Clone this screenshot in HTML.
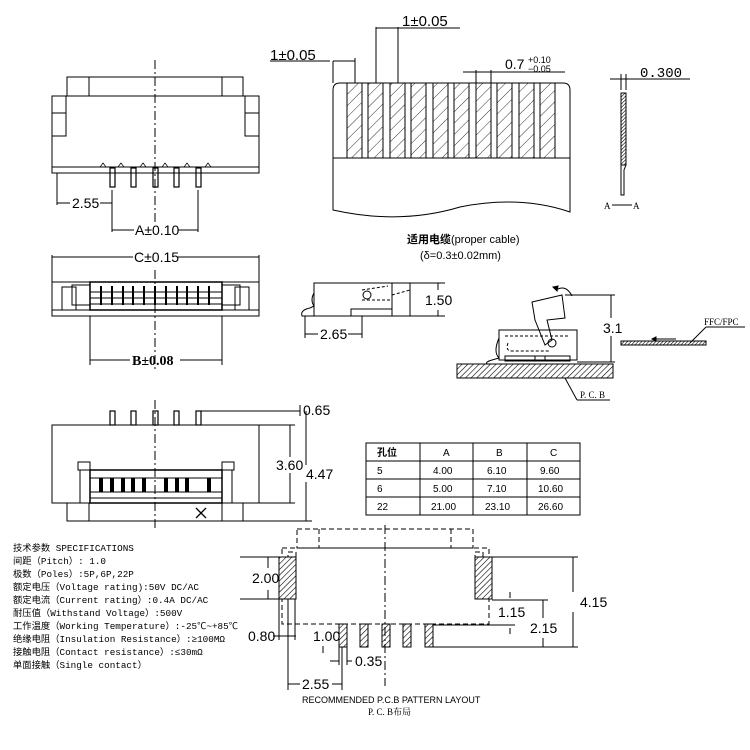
<!DOCTYPE html>
<html><head><meta charset="utf-8"><style>
body{margin:0;background:#fff}
svg{display:block}
.d{font-family:"Liberation Sans",sans-serif;font-size:14px;fill:#000}
.m{font-family:"Liberation Mono","Noto Sans CJK SC",monospace;font-size:9.3px;fill:#000}
.s{font-family:"Liberation Sans","Noto Sans CJK SC",sans-serif;font-size:10px;fill:#000}
</style></head><body>
<svg width="750" height="750" viewBox="0 0 750 750" xmlns="http://www.w3.org/2000/svg">
<defs>
<pattern id="h" width="4" height="4" patternUnits="userSpaceOnUse" patternTransform="rotate(45)"><rect width="4" height="4" fill="#fff"/><line x1="0" y1="0" x2="0" y2="4" stroke="#000" stroke-width="1.2"/></pattern>
<pattern id="h2" width="2.5" height="2.5" patternUnits="userSpaceOnUse" patternTransform="rotate(45)"><rect width="3" height="3" fill="#fff"/><line x1="0" y1="0" x2="0" y2="3" stroke="#000" stroke-width="1.2"/></pattern>
<pattern id="hc" width="8" height="8" patternUnits="userSpaceOnUse" patternTransform="rotate(45)"><rect width="8" height="8" fill="#fff"/><line x1="0" y1="0" x2="0" y2="8" stroke="#000" stroke-width="0.8"/></pattern>
</defs>
<g fill="none" stroke="#000" stroke-width="1">
<!-- View 1 -->
<rect x="67" y="77" width="176" height="19"/><line x1="89" y1="77" x2="89" y2="96"/><line x1="222" y1="77" x2="222" y2="96"/>
<rect x="52" y="96" width="207" height="77"/><line x1="52" y1="167" x2="259" y2="167"/>
<rect x="52" y="113" width="14" height="23"/><rect x="245" y="113" width="14" height="23"/>
<line x1="66" y1="96" x2="66" y2="136"/><line x1="245" y1="96" x2="245" y2="136"/>
<path d="M100 167 L103 163 L106 167 M118 167 L121 163 L124 167 M140 167 L143 163 L146 167 M162 167 L165 163 L168 167 M184 167 L187 163 L190 167 M205 167 L208 163 L211 167" stroke-width="0.7"/>
<g stroke-width="1.2"><rect x="110" y="168" width="5" height="19"/><rect x="131" y="168" width="5" height="19"/><rect x="153" y="168" width="5" height="19"/><rect x="174" y="168" width="5" height="19"/><rect x="196" y="168" width="5" height="19"/></g>
<line x1="155" y1="60" x2="155" y2="222" stroke-dasharray="9,3,2,3"/>
<line x1="57" y1="173" x2="57" y2="205"/><line x1="112" y1="190" x2="112" y2="232"/><line x1="198" y1="190" x2="198" y2="232"/>
<line x1="57" y1="203" x2="70" y2="203"/><line x1="100" y1="203" x2="112" y2="203"/>
<line x1="112" y1="230" x2="134" y2="230"/><line x1="178" y1="230" x2="198" y2="230"/>
<!-- View 2 -->
<line x1="52" y1="255" x2="52" y2="285"/><line x1="259" y1="255" x2="259" y2="285"/>
<line x1="52" y1="257" x2="133" y2="257"/><line x1="178" y1="257" x2="259" y2="257"/>
<rect x="52" y="282" width="207" height="34"/><line x1="52" y1="310" x2="259" y2="310"/>
<rect x="62" y="287" width="14" height="23"/><rect x="235" y="287" width="14" height="23"/>
<rect x="72" y="285" width="18" height="20"/><rect x="222" y="285" width="18" height="20"/>
<rect x="90" y="282" width="132" height="28" stroke-width="1.5"/>
<line x1="90" y1="292" x2="222" y2="292"/><line x1="90" y1="298" x2="222" y2="298"/><line x1="90" y1="304" x2="222" y2="304"/>
<g stroke-width="2"><line x1="101" y1="286" x2="101" y2="305"/><line x1="112" y1="286" x2="112" y2="305"/><line x1="123" y1="286" x2="123" y2="305"/><line x1="133" y1="286" x2="133" y2="305"/><line x1="144" y1="286" x2="144" y2="305"/><line x1="155" y1="286" x2="155" y2="305"/><line x1="166" y1="286" x2="166" y2="305"/><line x1="177" y1="286" x2="177" y2="305"/><line x1="187" y1="286" x2="187" y2="305"/><line x1="198" y1="286" x2="198" y2="305"/><line x1="209" y1="286" x2="209" y2="305"/></g>
<line x1="155" y1="270" x2="155" y2="370" stroke-dasharray="9,3,2,3"/>
<line x1="90" y1="316" x2="90" y2="365"/><line x1="222" y1="316" x2="222" y2="365"/>
<line x1="90" y1="360" x2="130" y2="360"/><line x1="180" y1="360" x2="222" y2="360"/>
<!-- View 3 -->
<g stroke-width="1.2"><rect x="110" y="411" width="5" height="14"/><rect x="131" y="411" width="5" height="14"/><rect x="153" y="411" width="5" height="14"/><rect x="174" y="411" width="5" height="14"/><rect x="196" y="411" width="5" height="14"/></g>
<line x1="201" y1="411" x2="300" y2="411"/><line x1="300" y1="405" x2="300" y2="416"/>
<rect x="52" y="425" width="207" height="78"/>
<rect x="67" y="503" width="176" height="18"/><line x1="89" y1="503" x2="89" y2="521"/><line x1="222" y1="503" x2="222" y2="521"/>
<path d="M196 508 L206 518 M206 508 L196 518" stroke-width="1.3"/>
<rect x="80" y="470" width="10" height="33"/><rect x="222" y="470" width="10" height="33"/>
<rect x="78" y="462" width="12" height="8"/><rect x="222" y="462" width="12" height="8"/>
<rect x="90" y="470" width="132" height="33" stroke-width="1.5"/>
<line x1="90" y1="478" x2="222" y2="478"/><line x1="90" y1="492" x2="222" y2="492"/><line x1="90" y1="498" x2="222" y2="498"/>
<g stroke-width="4"><line x1="101" y1="478" x2="101" y2="492"/><line x1="112" y1="478" x2="112" y2="492"/><line x1="123" y1="478" x2="123" y2="492"/><line x1="133" y1="478" x2="133" y2="492"/><line x1="144" y1="478" x2="144" y2="492"/><line x1="166" y1="478" x2="166" y2="492"/><line x1="177" y1="478" x2="177" y2="492"/><line x1="187" y1="478" x2="187" y2="492"/><line x1="209" y1="478" x2="209" y2="492"/></g>
<line x1="155" y1="400" x2="155" y2="530" stroke-dasharray="9,3,2,3"/>
<line x1="259" y1="425" x2="295" y2="425"/><line x1="259" y1="503" x2="295" y2="503"/><line x1="243" y1="521" x2="312" y2="521"/>
<line x1="290" y1="425" x2="290" y2="457"/><line x1="290" y1="473" x2="290" y2="503"/>
<line x1="306" y1="411" x2="306" y2="465"/><line x1="306" y1="482" x2="306" y2="521"/>
<!-- Cable -->
<path d="M333 200 L333 90 Q333 83 340 83 L563 83 Q570 83 570 90 L570 212 Q520 195 460 207 Q400 225 333 210 Z"/>
<line x1="333" y1="158" x2="570" y2="158"/>
<g fill="url(#hc)"><rect x="347" y="83" width="15" height="75"/><rect x="368" y="83" width="15" height="75"/><rect x="390" y="83" width="15" height="75"/><rect x="411" y="83" width="15" height="75"/><rect x="433" y="83" width="15" height="75"/><rect x="454" y="83" width="15" height="75"/><rect x="476" y="83" width="15" height="75"/><rect x="497" y="83" width="15" height="75"/><rect x="519" y="83" width="15" height="75"/><rect x="540" y="83" width="15" height="75"/></g>
<line x1="333" y1="61" x2="333" y2="83"/><line x1="355" y1="58" x2="355" y2="83"/><line x1="333" y1="61" x2="355" y2="61"/><line x1="270" y1="61" x2="330" y2="61"/>
<line x1="376" y1="27" x2="376" y2="83"/><line x1="398" y1="27" x2="398" y2="83"/><line x1="376" y1="28" x2="398" y2="28"/><line x1="398" y1="28" x2="460" y2="28"/>
<line x1="476" y1="70" x2="476" y2="83"/><line x1="491" y1="70" x2="491" y2="83"/><line x1="463" y1="72" x2="565" y2="72"/>
<!-- Section A-A -->
<rect x="621" y="93" width="5" height="72" fill="url(#h2)"/><path d="M621 165 L621 195 L624 195 L624 170 L626 165"/>
<line x1="610" y1="79" x2="640" y2="79"/><line x1="621" y1="74" x2="621" y2="90"/><line x1="626" y1="74" x2="626" y2="90"/><line x1="626" y1="79" x2="690" y2="79"/>
<line x1="612" y1="205" x2="632" y2="205"/>
<!-- Side views -->
<rect x="314" y="283" width="96" height="33"/><line x1="392" y1="283" x2="392" y2="316"/><rect x="351" y="309" width="41" height="7"/>
<path d="M314 293 Q310 300 314 306 L310 308 Q300 310 302 316 L314 316" />
<path d="M362 290 L388 286 M362 300 L392 300 M392 295 L410 290" stroke-dasharray="3,2"/>
<circle cx="367" cy="295" r="4"/>
<line x1="410" y1="283" x2="445" y2="283"/><line x1="410" y1="316" x2="445" y2="316"/><line x1="438" y1="283" x2="438" y2="290"/><line x1="438" y1="310" x2="438" y2="316"/>
<line x1="305" y1="316" x2="305" y2="338"/><line x1="362" y1="316" x2="362" y2="338"/><line x1="305" y1="334" x2="318" y2="334"/><line x1="348" y1="334" x2="362" y2="334"/>
<rect x="457" y="364" width="156" height="14" fill="url(#h)"/>
<rect x="499" y="330" width="78" height="30"/><rect x="505" y="356" width="40" height="5"/><rect x="535" y="356" width="35" height="5"/>
<path d="M499 338 Q493 352 499 358 L492 360 Q485 362 487 364"/>
<path d="M505 336 L568 336 M508 343 Q505 351 512 351 L550 351" stroke-dasharray="3,2"/>
<path d="M532 302 L562 295 L565 318 L547 320 L552 340 L545 345 L535 320 Z"/>
<circle cx="552" cy="343" r="4"/>
<path d="M556 290 Q566 284 572 296"/><path d="M553 287 L557 291 L558 286 Z" fill="#000"/>
<line x1="565" y1="295" x2="615" y2="295"/><line x1="577" y1="362" x2="615" y2="362"/><line x1="611" y1="295" x2="611" y2="318"/><line x1="611" y1="336" x2="611" y2="362"/>
<line x1="565" y1="378" x2="577" y2="400"/><line x1="577" y1="400" x2="610" y2="400"/>
<rect x="621" y="341" width="85" height="4" fill="url(#h2)"/><line x1="656" y1="339" x2="676" y2="339"/><path d="M656 337 L652 339 L656 341Z" fill="#000"/>
<line x1="690" y1="343" x2="706" y2="327"/><line x1="706" y1="327" x2="745" y2="327"/>
<!-- Table -->
<rect x="366" y="443" width="214" height="72"/>
<line x1="420" y1="443" x2="420" y2="515"/><line x1="473" y1="443" x2="473" y2="515"/><line x1="527" y1="443" x2="527" y2="515"/>
<line x1="366" y1="461" x2="580" y2="461"/><line x1="366" y1="479" x2="580" y2="479"/><line x1="366" y1="497" x2="580" y2="497"/>
<!-- PCB layout -->
<g stroke-dasharray="5,3"><rect x="297" y="529" width="176" height="19"/><line x1="319" y1="529" x2="319" y2="548"/><line x1="451" y1="529" x2="451" y2="548"/>
<rect x="282" y="548" width="207" height="76"/><rect x="288" y="552" width="8" height="44"/><rect x="475" y="552" width="8" height="44"/></g>
<rect x="279" y="557" width="17" height="42" fill="url(#h)"/><rect x="475" y="557" width="17" height="42" fill="url(#h)"/>
<g fill="url(#h)"><rect x="339" y="624" width="8" height="23"/><rect x="360" y="624" width="8" height="23"/><rect x="382" y="624" width="8" height="23"/><rect x="403" y="624" width="8" height="23"/><rect x="425" y="624" width="8" height="23"/></g>
<line x1="385" y1="525" x2="385" y2="686" stroke-dasharray="9,3,2,3"/>
<line x1="240" y1="557" x2="279" y2="557"/><line x1="240" y1="599" x2="279" y2="599"/><line x1="268" y1="557" x2="268" y2="568"/><line x1="268" y1="590" x2="268" y2="599"/>
<line x1="279" y1="599" x2="279" y2="640"/><line x1="295" y1="599" x2="295" y2="640"/><line x1="273" y1="636" x2="296" y2="636"/>
<line x1="288" y1="599" x2="288" y2="690"/><line x1="342" y1="647" x2="342" y2="690"/><line x1="288" y1="684" x2="300" y2="684"/><line x1="332" y1="684" x2="342" y2="684"/>
<line x1="339" y1="647" x2="339" y2="665"/><line x1="347" y1="647" x2="347" y2="665"/><line x1="330" y1="661" x2="339" y2="661"/><line x1="347" y1="661" x2="352" y2="661"/>
<line x1="323" y1="646" x2="323" y2="653"/>
<line x1="492" y1="557" x2="578" y2="557"/><line x1="433" y1="647" x2="578" y2="647"/><line x1="492" y1="600" x2="548" y2="600"/><line x1="433" y1="625" x2="515" y2="625"/>
<line x1="573" y1="557" x2="573" y2="592"/><line x1="573" y1="612" x2="573" y2="647"/>
<line x1="543" y1="600" x2="543" y2="618"/><line x1="543" y1="638" x2="543" y2="647"/>
<line x1="510" y1="592" x2="510" y2="598"/><line x1="510" y1="628" x2="510" y2="634"/>
</g>
<g class="d">
<text x="72" y="208">2.55</text><text x="135" y="235">A±0.10</text>
<text x="134" y="262">C±0.15</text>
<text x="132" y="365" font-weight="bold" font-family="Liberation Serif,serif">B±0.08</text>
<text x="303" y="415">0.65</text><text x="276" y="470">3.60</text><text x="306" y="479">4.47</text>
<text x="270" y="60" font-size="15">1±0.05</text><text x="402" y="26" font-size="15">1±0.05</text>
<text x="505" y="69">0.7</text><text x="528" y="63" font-size="9">+0.10</text><text x="528" y="72" font-size="9">−0.05</text>
<text x="640" y="77" font-family="Liberation Mono,monospace">0.300</text>
<text x="425" y="305">1.50</text><text x="320" y="339">2.65</text><text x="603" y="333">3.1</text>
<text x="252" y="583">2.00</text><text x="248" y="641">0.80</text><text x="313" y="641">1.00</text>
<text x="355" y="666">0.35</text><text x="302" y="689">2.55</text>
<text x="498" y="617">1.15</text><text x="530" y="633">2.15</text><text x="580" y="607">4.15</text>
</g>
<g class="s">
<text x="604" y="209" font-size="9" font-family="Liberation Serif,serif">A</text><text x="633" y="209" font-size="9" font-family="Liberation Serif,serif">A</text>
<text x="407" y="243" font-size="11"><tspan font-weight="bold" font-family="Noto Sans CJK SC,sans-serif">适用电缆</tspan>(proper cable)</text>
<text x="420" y="259" font-size="11">(δ=0.3±0.02mm)</text>
<text x="580" y="398" font-size="9" font-family="Liberation Serif,serif">P. C. B</text>
<text x="704" y="325" font-size="9" font-family="Liberation Serif,serif">FFC/FPC</text>
<text x="377" y="456" font-weight="bold" font-family="Noto Sans CJK SC,sans-serif">孔位</text><text x="443" y="456">A</text><text x="496" y="456">B</text><text x="550" y="456">C</text>
<text x="377" y="474">5</text><text x="433" y="474">4.00</text><text x="487" y="474">6.10</text><text x="540" y="474">9.60</text>
<text x="377" y="492">6</text><text x="433" y="492">5.00</text><text x="487" y="492">7.10</text><text x="538" y="492">10.60</text>
<text x="377" y="510">22</text><text x="431" y="510">21.00</text><text x="485" y="510">23.10</text><text x="538" y="510">26.60</text>
<text x="302" y="703" font-size="9">RECOMMENDED  P.C.B  PATTERN  LAYOUT</text>
<text x="368" y="715" font-size="9" font-family="Liberation Serif,Noto Serif CJK SC,serif">P. C. B布局</text>
</g>
<g class="m">
<text x="13" y="551">技术参数 SPECIFICATIONS</text>
<text x="13" y="564">间距（Pitch）: 1.0</text>
<text x="13" y="577">极数（Poles）:5P,6P,22P</text>
<text x="13" y="590">额定电压（Voltage rating):50V DC/AC</text>
<text x="13" y="603">额定电流（Current rating）:0.4A DC/AC</text>
<text x="13" y="616">耐压值（Withstand Voltage）:500V</text>
<text x="13" y="629">工作温度（Working Temperature）:-25℃~+85℃</text>
<text x="13" y="642">绝缘电阻（Insulation Resistance）:≥100MΩ</text>
<text x="13" y="655">接触电阻（Contact resistance）:≤30mΩ</text>
<text x="13" y="668">单面接触（Single contact）</text>
</g>
</svg>
</body></html>
